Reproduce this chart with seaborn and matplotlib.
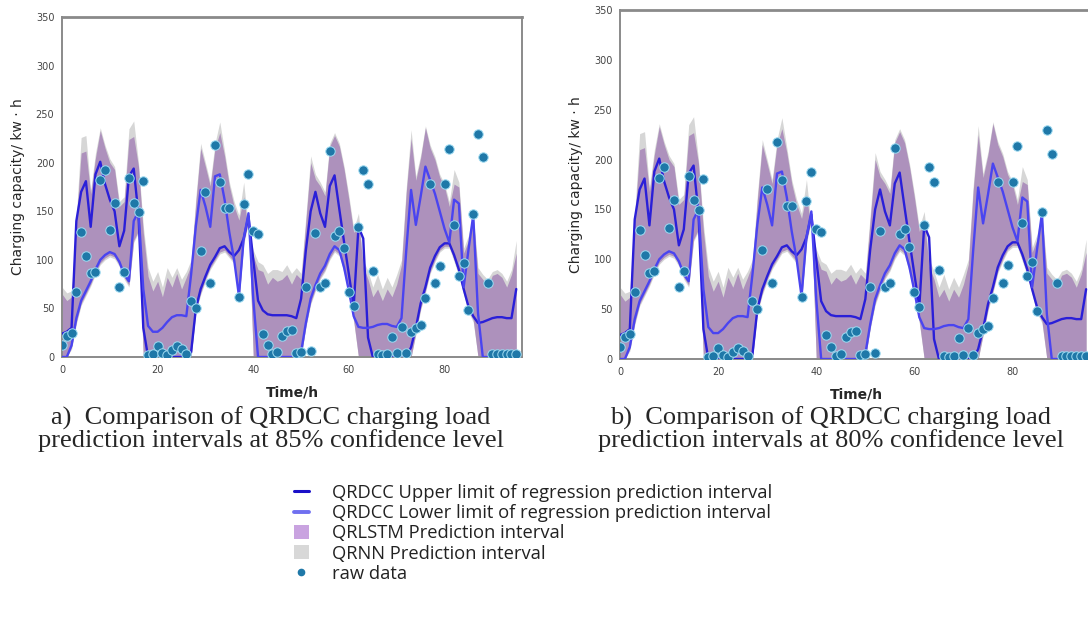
import numpy as np
import pandas as pd
import matplotlib
matplotlib.use("Agg")
import matplotlib.pyplot as plt
from matplotlib.lines import Line2D
from matplotlib.patches import Patch
import seaborn as sns

# ---------------- data ----------------
hours = list(range(96))

upper_limit = [24, 26, 30, 140, 170, 181, 134, 188, 201, 178,
               162, 150, 114, 130, 186, 194, 146, 30, 0, 0,
               0, 0, 0, 0, 0, 0, 0, 5, 50, 70,
               83, 95, 103, 112, 114, 108, 104, 110, 122, 145,
               100, 58, 48, 44, 43, 43, 43, 43, 42, 40,
               60, 110, 150, 170, 148, 134, 176, 187, 152, 118,
               85, 52, 134, 122, 20, 0, 0, 0, 0, 0,
               0, 0, 0, 10, 30, 55, 72, 92, 104, 113,
               117, 117, 105, 90, 70, 52, 42, 35, 36, 38,
               40, 41, 41, 40, 40, 70]

lower_limit = [0, 0, 12, 40, 58, 68, 78, 90, 100, 105,
               108, 106, 98, 85, 78, 140, 150, 70, 32, 26,
               26, 30, 36, 41, 43, 43, 42, 85, 135, 172,
               155, 134, 186, 188, 162, 128, 100, 63, 122, 148,
               60, 0, 0, 0, 0, 0, 0, 0, 0, 0,
               5, 35, 60, 74, 86, 94, 106, 114, 110, 92,
               68, 42, 31, 30, 30, 31, 33, 34, 34, 32,
               31, 40, 110, 172, 136, 165, 196, 182, 168, 150,
               132, 118, 162, 158, 72, 110, 146, 45, 0, 0,
               0, 0, 0, 0, 0, 0]

qrlstm_high = [65, 58, 62, 140, 210, 212, 168, 205, 233, 215,
               200, 193, 155, 160, 224, 227, 196, 128, 83, 68,
               78, 62, 82, 72, 86, 70, 82, 95, 160, 215,
               196, 176, 215, 231, 207, 176, 155, 141, 165, 128,
               104, 90, 88, 75, 82, 78, 80, 85, 75, 85,
               80, 140, 200, 183, 176, 166, 217, 228, 217, 193,
               162, 128, 140, 93, 80, 62, 70, 58, 70, 62,
               75, 95, 170, 225, 182, 205, 236, 215, 203, 185,
               175, 155, 178, 175, 107, 120, 144, 86, 80, 72,
               84, 86, 82, 72, 85, 107]

qrlstm_low = [0, 0, 10, 36, 55, 65, 75, 87, 97, 102,
              105, 103, 95, 82, 74, 120, 130, 0, 0, 0,
              0, 0, 0, 0, 0, 0, 0, 0, 48, 66,
              80, 92, 100, 108, 110, 104, 98, 58, 118, 140,
              0, 0, 0, 0, 0, 0, 0, 0, 0, 0,
              0, 32, 56, 70, 82, 90, 102, 110, 106, 88,
              64, 38, 0, 0, 0, 0, 0, 0, 0, 0,
              0, 0, 0, 0, 25, 50, 68, 88, 100, 110,
              114, 114, 100, 85, 66, 48, 38, 0, 0, 0,
              0, 0, 0, 0, 0, 0]

qrnn_high = [72, 66, 68, 145, 226, 228, 172, 210, 236, 218,
             204, 196, 160, 165, 235, 243, 200, 135, 92, 78,
             88, 72, 92, 82, 92, 80, 88, 100, 165, 220,
             200, 180, 220, 242, 212, 180, 160, 146, 180, 132,
             110, 98, 95, 86, 90, 90, 88, 95, 86, 92,
             86, 145, 207, 188, 180, 170, 220, 231, 220, 196,
             166, 132, 148, 100, 88, 72, 85, 70, 82, 72,
             85, 100, 175, 234, 186, 208, 238, 218, 206, 188,
             178, 160, 193, 180, 112, 125, 148, 92, 85, 80,
             88, 90, 86, 78, 90, 120]

qrnn_low = [0, 0, 8, 34, 53, 63, 73, 85, 95, 100,
            103, 101, 93, 80, 72, 118, 128, 0, 0, 0,
            0, 0, 0, 0, 0, 0, 0, 0, 46, 64,
            78, 90, 98, 106, 108, 102, 96, 56, 116, 138,
            0, 0, 0, 0, 0, 0, 0, 0, 0, 0,
            0, 30, 54, 68, 80, 88, 100, 108, 104, 86,
            62, 36, 0, 0, 0, 0, 0, 0, 0, 0,
            0, 0, 0, 0, 23, 48, 66, 86, 98, 108,
            112, 112, 98, 83, 64, 46, 36, 0, 0, 0,
            0, 0, 0, 0, 0, 0]

raw_data = [12, 22, 25, 67, 129, 104, 86, 88, 182, 193,
            131, 159, 72, 88, 184, 159, 149, 181, 2, 3,
            11, 4, 2, 7, 11, 8, 3, 58, 50, 109,
            170, 76, 218, 180, 153, 153, np.nan, 62, 158, 188,
            130, 127, 24, 12, 3, 5, 22, 27, 28, 4,
            5, 72, 6, 128, 72, 76, 212, 125, 130, 112,
            67, 52, 134, 193, 178, 89, 3, 2, 3, 21,
            4, 31, 4, 26, 30, 33, 61, 178, 76, 94,
            178, 214, 136, 83, 97, 48, 147, 230, 206, 76,
            3, 3, 3, 3, 3, 3]

y_ticks = [0, 50, 100, 150, 200, 250, 300, 350]
x_ticks = [0, 20, 40, 60, 80]

captions = ["a)  Comparison of QRDCC charging load\nprediction intervals at 85% confidence level",
            "b)  Comparison of QRDCC charging load\nprediction intervals at 80% confidence level"]
legend_labels = ["QRDCC Upper limit of regression prediction interval",
                 "QRDCC Lower limit of regression prediction interval",
                 "QRLSTM Prediction interval",
                 "QRNN Prediction interval",
                 "raw data"]

df = pd.DataFrame({"t": hours, "up": upper_limit, "lo": lower_limit,
                   "raw": raw_data})

# ---------------- styling ----------------
sns.set_style("white")
plt.rcParams["font.family"] = ["DejaVu Sans"]

W, H = 1088, 619
fig = plt.figure(figsize=(W / 100, H / 100), dpi=100)

PURPLE = "#ad91bc"
GRAY = "#d6d6d6"
C_UP = "#2a1fd8"
C_LO = "#4a44f0"
DOT = "#1f78a8"

def px_axes(l, t, r, b):
    return fig.add_axes([l / W, 1 - b / H, (r - l) / W, (b - t) / H])

panels = [px_axes(62, 17, 522, 357), px_axes(620, 10, 1092, 359)]

for ax in panels:
    ax.fill_between(df["t"], qrnn_low, qrnn_high, color=GRAY, lw=0, zorder=1)
    ax.fill_between(df["t"], qrlstm_low, qrlstm_high, color=PURPLE, lw=0, zorder=2)
    sns.lineplot(data=df, x="t", y="up", ax=ax, color=C_UP, lw=1.7, zorder=4)
    sns.lineplot(data=df, x="t", y="lo", ax=ax, color=C_LO, lw=1.7, zorder=4)
    sns.scatterplot(data=df, x="t", y="raw", ax=ax, color=DOT, s=46,
                    edgecolor="#9fdcf2", linewidth=0.7, zorder=5)
    ax.set_xlim(0, 96.2)
    ax.set_ylim(0, 350)
    ax.set_xticks(x_ticks)
    ax.set_yticks(y_ticks)
    ax.tick_params(axis="both", labelsize=7, colors="#444444", length=2.5,
                   width=0.8, pad=3, direction="out")
    for s in ax.spines.values():
        s.set_color("#8a8a8a")
        s.set_linewidth(1.4)
    ax.spines["top"].set_linewidth(2.0)
    ax.set_xlabel("Time/h", fontsize=10, fontweight="bold", labelpad=8)
    ax.set_ylabel("Charging capacity/ kw · h", fontsize=10, labelpad=8)
    ax.grid(False)

# captions
for cx, txt in zip([271, 831], captions):
    fig.text(cx / W, 1 - 429 / H, txt, ha="center", va="center",
             fontsize=19, family="Liberation Serif", linespacing=0.93)

# legend
handles = [Line2D([0], [0], color="#1a10c8", lw=2.2),
           Line2D([0], [0], color="#7070f0", lw=2.8),
           Patch(facecolor="#c9a3e0", edgecolor="none"),
           Patch(facecolor="#d8d8d8", edgecolor="none"),
           Line2D([0], [0], marker="o", ls="none", markersize=4.5,
                  markerfacecolor=DOT, markeredgecolor=DOT)]
leg = fig.legend(handles, legend_labels, loc="upper left",
                 bbox_to_anchor=(294 / W, 1 - 484 / H), frameon=False,
                 prop={"family": "Open Sans", "size": 13.2}, handlelength=0.8,
                 handleheight=0.8, handletextpad=1.3, labelspacing=0.12,
                 borderpad=0, borderaxespad=0)
for t in leg.get_texts():
    t.set_color("#222222")

fig.savefig("out.png", dpi=100)
